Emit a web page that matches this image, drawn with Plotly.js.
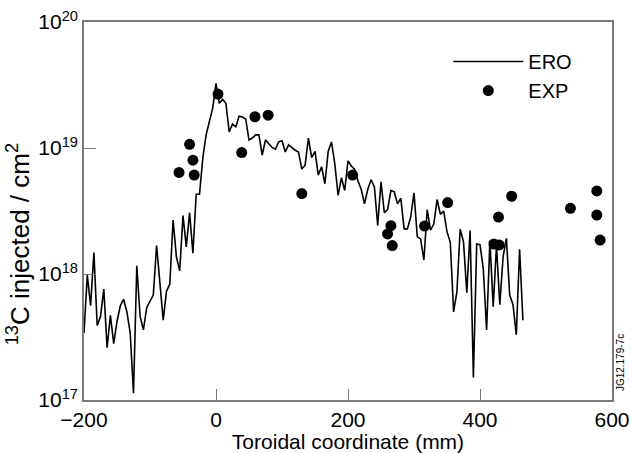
<!DOCTYPE html>
<html>
<head>
<meta charset="utf-8">
<script src="https://cdn.plot.ly/plotly-3.0.1.min.js"></script>
<style>html,body{margin:0;padding:0;background:#fff;}#chart{width:632px;height:453px;}</style>
</head>
<body>
<div id="chart"></div>
<script>
// ERO simulation (toroidal coordinate in mm, 13C injected per cm2)
var eroX = [-200,-195,-190,-185,-180,-175,-170,-165,-160,-155,-150,-145,-140,-135,-130,-125,-120,-115,-110,-105,
  -100,-95,-90,-85,-80,-75,-70,-65,-60,-55,-50,-45,-40,-35,-30,-25,-20,-15,-10,-5,
  0,5,10,15,20,25,30,35,40,45,50,55,60,65,70,75,80,85,90,95,
  100,105,110,115,120,125,130,135,140,145,150,155,160,165,170,175,180,185,190,195,
  200,205,210,215,220,225,230,235,240,245,250,255,260,265,270,275,280,285,290,295,
  300,305,310,315,320,325,330,335,340,345,350,355,360,365,370,375,380,385,390,395,
  400,405,410,415,420,425,430,435,440,445,450,455,460,465];
var eroY = [3.4e17,9.8e17,5.6e17,1.48e18,3.9e17,4.6e17,7.6e17,2.6e17,4.7e17,2.8e17,
  4.2e17,5.6e17,6.3e17,5.0e17,3.4e17,1.13e17,1.16e18,4.6e17,3.6e17,5.4e17,
  6.1e17,6.8e17,1.68e18,8.4e17,4.3e17,7.3e17,8.3e17,2.68e18,1.37e18,1.06e18,
  2.91e18,1.64e18,3.07e18,1.46e18,4.3e18,4.3e18,8.3e18,1.27e19,1.61e19,2.07e19,
  3.26e19,2.26e19,2.44e19,2.26e19,1.34e19,1.55e19,1.47e19,1.79e19,1.76e19,1.70e19,
  1.16e19,1.20e19,1.27e19,1.27e19,8.8e18,1.16e19,1.08e19,1.01e19,9.8e18,1.12e19,
  1.14e19,9.3e18,1.06e19,1.0e19,9.6e18,9.3e18,6.8e18,7.3e18,1.2e19,8.4e18,
  9.4e18,6.1e18,7.1e18,5.2e18,9.4e18,1.12e19,7.5e18,4.2e18,5.8e18,4.6e18,
  7.9e18,7.2e18,6.8e18,5.5e18,4.7e18,3.6e18,4.7e18,5.6e18,4.9e18,2.43e18,
  5.4e18,3.07e18,3.24e18,4.6e18,4.5e18,3.6e18,4.0e18,2.28e18,2.28e18,2.83e18,
  4.4e18,1.97e18,1.9e18,1.29e18,3.24e18,2.23e18,2.49e18,3.9e18,2.97e18,3.16e18,
  2.17e18,1.78e18,5.0e17,7.2e17,2.27e18,1.8e18,7.1e17,2.21e18,1.51e17,1.73e18,
  1.71e18,1.1e18,3.6e17,1.83e18,5.5e17,1.67e18,5.7e17,1.37e18,1.92e18,6.8e17,
  5.7e17,3.3e17,1.57e18,4.3e17];

// Experimental points
var expX = [-56,-40,-35,-33,3,39,59,79,130,207,265,260,267,316,351,421,429,428,448,537,577,577,582];
var expY = [6.4e18,1.07e19,8.0e18,6.1e18,2.68e19,9.2e18,1.77e19,1.82e19,4.35e18,6.1e18,
  2.42e18,2.08e18,1.68e18,2.4e18,3.69e18,1.73e18,1.7e18,2.83e18,4.14e18,3.32e18,
  4.56e18,2.94e18,1.86e18];

// Axis ticks
var xTicks = [-200,0,200,400,600];
var yTicks = [1e17,1e18,1e19,1e20];
var yTickText = ['10<sup>17</sup>','10<sup>18</sup>','10<sup>19</sup>','10<sup>20</sup>'];

var FONT = '"Liberation Sans", Arial, Helvetica, sans-serif';
var AX = '#7a7a7a';

var traces = [
  {x: eroX, y: eroY, type: 'scatter', mode: 'lines', name: 'ERO',
   line: {color: '#000', width: 1.6}},
  {x: expX, y: expY, type: 'scatter', mode: 'markers', name: 'EXP',
   marker: {color: '#000', size: 11}}
];

var layout = {
  width: 632, height: 453,
  margin: {l: 84, r: 20, t: 22, b: 53},
  paper_bgcolor: '#fff', plot_bgcolor: '#fff',
  font: {family: FONT, size: 20, color: '#000'},
  showlegend: true,
  legend: {x: 0.69, y: 0.947, xanchor: 'left', yanchor: 'top', bgcolor: 'rgba(0,0,0,0)',
           font: {family: FONT, size: 20, color: '#000'}, itemwidth: 70, tracegroupgap: 0},
  xaxis: {
    range: [-200, 600], tickvals: xTicks, ticks: 'inside', ticklen: 11, tickwidth: 1.3, tickcolor: AX,
    showline: true, linecolor: AX, linewidth: 1.5, mirror: true, showgrid: false, zeroline: false,
    tickfont: {family: FONT, size: 21, color: '#000'},
    title: {text: 'Toroidal coordinate (mm)', font: {family: FONT, size: 21, color: '#000'}, standoff: 6}
  },
  yaxis: {
    type: 'log', range: [17, 20], tickvals: yTicks, ticktext: yTickText,
    ticks: 'inside', ticklen: 12, tickwidth: 1.3, tickcolor: AX,
    showline: true, linecolor: AX, linewidth: 1.5, mirror: true, showgrid: false, zeroline: false,
    tickfont: {family: FONT, size: 21, color: '#000'}
  },
  annotations: [
    {text: '<sup>13</sup>C injected / cm<sup>2</sup>', xref: 'paper', yref: 'paper',
     x: -0.125, y: 0.412, xanchor: 'center', yanchor: 'middle', textangle: -90, showarrow: false,
     font: {family: FONT, size: 26, color: '#000'}},
    {text: 'JG12.179-7c', xref: 'paper', yref: 'paper', x: 1.015, y: 0.1,
     xanchor: 'center', yanchor: 'middle', textangle: -90, showarrow: false,
     font: {family: FONT, size: 10, color: '#000'}}
  ]
};

Plotly.newPlot('chart', traces, layout, {displayModeBar: false});
</script>
</body>
</html>
